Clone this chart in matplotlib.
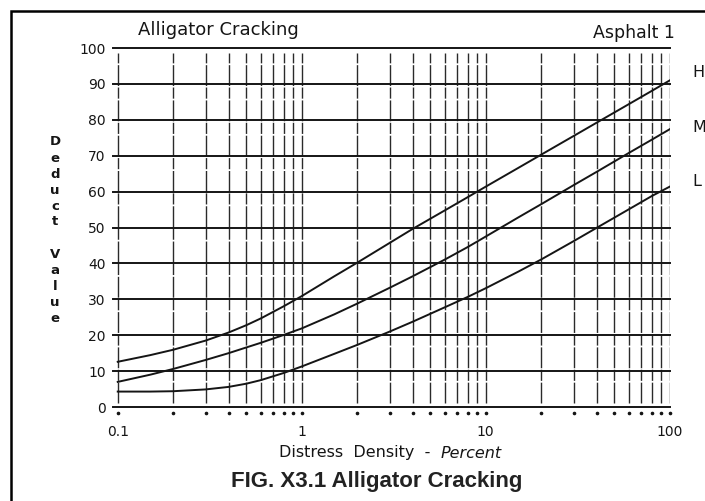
import numpy as np
import matplotlib.pyplot as plt
from matplotlib.patches import Rectangle

# distress density (percent) where the deduct values are read
density = [0.1, 0.15, 0.2, 0.3, 0.4, 0.5, 0.6, 0.8, 1, 1.5, 2, 3, 4, 6, 8,
           10, 15, 20, 30, 40, 60, 80, 100]

# deduct value curves for the three severity levels
high = [12.6, 14.45, 15.95, 18.5, 20.75, 22.8, 24.7, 28.1, 30.9, 36.4, 40.2,
        45.7, 49.6, 54.8, 58.5, 61.4, 66.6, 70.3, 75.5, 79.2, 84.4, 88.1, 91.0]
medium = [7.0, 9.0, 10.6, 13.1, 15.0, 16.6, 17.9, 20.1, 21.9, 25.8, 28.8,
          33.2, 36.4, 41.1, 44.6, 47.5, 52.8, 56.5, 61.8, 65.5, 70.8, 74.5, 77.4]
low = [4.3, 4.3, 4.4, 4.9, 5.6, 6.5, 7.5, 9.5, 11.3, 14.8, 17.3, 21.0, 23.75,
       27.8, 30.7, 33.1, 37.7, 41.1, 46.2, 49.9, 55.1, 58.8, 61.4]

curve_names = ["H", "M", "L"]

y_ticks = list(range(0, 101, 10))
x_ticks = [0.1, 1, 10, 100]
x_tick_labels = ["0.1", "1", "10", "100"]
x_grid = [m * 10.0 ** e for e in (-1, 0, 1) for m in range(1, 10)] + [100]

ink = "#151515"

fig = plt.figure(figsize=(7.05, 5.01), dpi=100)
ax = fig.add_axes([0.160, 0.1876, 0.790, 0.7164])
ax.set_xscale("log")
ax.set_xlim(0.094, 100)
ax.set_ylim(0, 100)
for s in ax.spines.values():
    s.set_visible(False)

# horizontal rules
for yv in y_ticks:
    ax.axhline(yv, color=ink, lw=1.4, clip_on=False, zorder=2)

# broken vertical rules
ax.vlines(x_grid, 1.0, 98.6, colors="#2a2a2a", lw=1.0,
          linestyles=[(0, (15, 1.3, 8, 1.1))], zorder=1)
ax.plot(x_grid, [-1.6] * len(x_grid), ls="none", marker="o", ms=1.6,
        color=ink, clip_on=False)

for ys in (high, medium, low):
    ax.plot(density, ys, color=ink, lw=1.4, zorder=3)

ax.set_yticks(y_ticks)
ax.set_xticks(x_ticks)
ax.set_xticklabels(x_tick_labels)
ax.xaxis.set_minor_locator(plt.NullLocator())
ax.tick_params(axis="both", length=0, labelsize=10, colors=ink)
ax.tick_params(axis="y", pad=5)
ax.tick_params(axis="x", pad=13)

# vertical axis title, one letter per line
letters = "Deduct Value"
for i, ch in enumerate(letters):
    fig.text(55 / 705, 1 - (142 + i * 16) / 501, ch, ha="center", va="center",
             fontsize=9.5, color=ink, fontweight="bold")

fig.text(218 / 705, 1 - 30 / 501, "Alligator Cracking", ha="center", va="center",
         fontsize=13, color=ink)
fig.text(675 / 705, 1 - 33 / 501, "Asphalt 1", ha="right", va="center",
         fontsize=12.5, color=ink)

# severity labels just past the curve ends
label_lift = [2.3, 0.6, 1.3]
for name, ys, lift in zip(curve_names, (high, medium, low), label_lift):
    ax.text(1.040, (ys[-1] + lift) / 100, name, transform=ax.transAxes,
            ha="left", va="center", fontsize=11.5, color=ink)

fig.text(441 / 705, 1 - 453 / 501, "Distress  Density  -  ", ha="right",
         va="center", fontsize=11.5, color=ink)
fig.text(441 / 705, 1 - 453 / 501, "Percent", ha="left", va="center",
         fontsize=11.5, color=ink, style="italic")
fig.text(377 / 705, 1 - 481 / 501, "FIG. X3.1 Alligator Cracking", ha="center",
         va="center", fontsize=16, fontweight="bold", color="#222222",
         family="Liberation Sans")

# outer frame
fig.add_artist(Rectangle((11 / 705, -0.1), 1.2, 1 - 11 / 501 + 0.1,
                         transform=fig.transFigure, fill=False, lw=1.8,
                         ec="black"))

fig.savefig("out.png", dpi=100)
